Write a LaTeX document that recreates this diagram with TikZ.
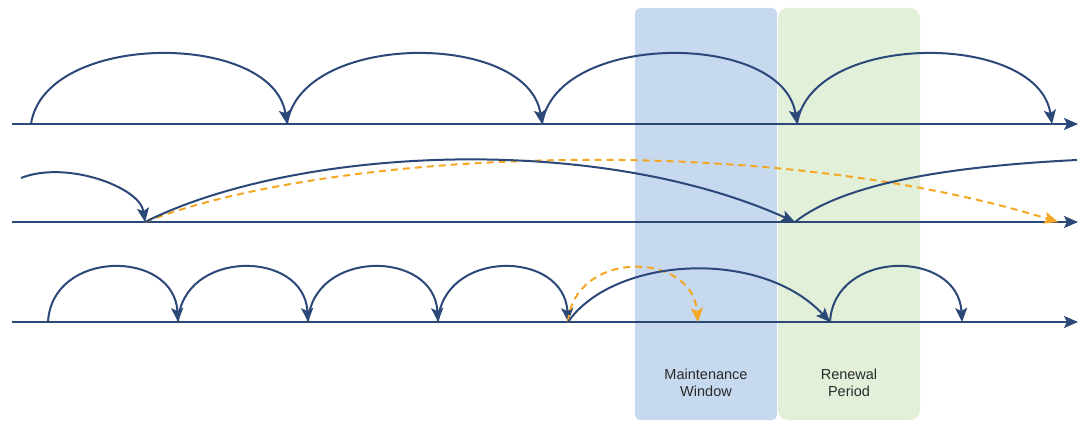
\documentclass[tikz,border=0pt]{standalone}
\usepackage{fontspec}
\setmainfont{Liberation Sans}
\usetikzlibrary{arrows.meta}
\definecolor{navy}{HTML}{2B4878}
\definecolor{amber}{HTML}{F5A623}
\definecolor{winblue}{HTML}{C6D9EF}
\definecolor{rengreen}{HTML}{E2EFD9}
\definecolor{labelgray}{HTML}{2A2A2A}
\begin{document}
\begin{tikzpicture}[x=1pt,y=-1pt,
  axis/.style={navy, line width=2pt, -{Stealth[length=14pt,width=12pt,inset=3pt]}},
  hop/.style={navy, line width=2pt, -{Stealth[length=14pt,width=12pt,inset=3pt]}},
  hopfree/.style={navy, line width=2pt},
  alt/.style={amber, line width=2pt, dash pattern=on 7pt off 5pt, -{Stealth[length=14pt,width=12pt,inset=3pt]}},
  zone/.style={inner sep=0pt, minimum width=142pt, minimum height=412pt},
  zonelabel/.style={align=center, text=labelgray, font=\fontsize{14.5}{17}\selectfont}]
\useasboundingbox (0,0) rectangle (1083,427);

% zones
\node[zone, fill=winblue, rounded corners=5pt] (win) at (706,214) {};
\node[zone, fill=rengreen, rounded corners=10pt] (ren) at (849,214) {};
\node[zonelabel] (winlabel) at (706,383) {Maintenance\\Window};
\node[zonelabel] (renlabel) at (849,383) {Renewal\\Period};

% axes
\coordinate (a1s) at (12,124); \coordinate (a1e) at (1078,124);
\coordinate (a2s) at (12,222); \coordinate (a2e) at (1078,222);
\coordinate (a3s) at (12,322); \coordinate (a3e) at (1078,322);
\draw[axis] (a1s) -- (a1e);
\draw[axis] (a2s) -- (a2e);
\draw[axis] (a3s) -- (a3e);

% row 1
\coordinate (p1) at (31,124);
\coordinate (p2) at (287,124);
\coordinate (p3) at (542,124);
\coordinate (p4) at (797,124);
\coordinate (p5) at (1052,124);
\draw[hop] (p1) .. controls +(14,-93) and +(-14,-93) .. (p2);
\draw[hop] (p2) .. controls +(14,-93) and +(-14,-93) .. (p3);
\draw[hop] (p3) .. controls +(14,-93) and +(-14,-93) .. (p4);
\draw[hop] (p4) .. controls +(14,-93) and +(-14,-93) .. (p5);

% row 2
\coordinate (q0) at (21,178);
\coordinate (q1) at (145,222);
\coordinate (q2) at (795,222);
\coordinate (q3) at (1077,160);
\coordinate (q4) at (1058,222);
\draw[alt] (q1) .. controls (330,150) and (760,130) .. (q4);
\draw[hop] (q0) .. controls +(45,-18) and +(-5,-35) .. (q1);
\draw[hop] (q1) .. controls +(150,-75) and +(-200,-90) .. (q2);
\draw[hopfree] (q2) .. controls +(55,-44) and +(-100,5) .. (q3);

% row 3
\coordinate (r1) at (48,322);
\coordinate (r2) at (178,322);
\coordinate (r3) at (308,322);
\coordinate (r4) at (438,322);
\coordinate (r5) at (568,322);
\coordinate (r6) at (830,322);
\coordinate (r7) at (962,322);
\coordinate (r8) at (698,322);
\draw[hop] (r1) .. controls +(4,-73) and +(-4,-73) .. (r2);
\draw[hop] (r2) .. controls +(4,-73) and +(-4,-73) .. (r3);
\draw[hop] (r3) .. controls +(4,-73) and +(-4,-73) .. (r4);
\draw[hop] (r4) .. controls +(4,-73) and +(-4,-73) .. (r5);
\draw[alt] (r5) .. controls +(6,-72) and +(-6,-72) .. (r8);
\draw[hop] (r5) .. controls +(45,-65) and +(-70,-75) .. (r6);
\draw[hop] (r6) .. controls +(4,-73) and +(-4,-73) .. (r7);
\end{tikzpicture}
\end{document}
